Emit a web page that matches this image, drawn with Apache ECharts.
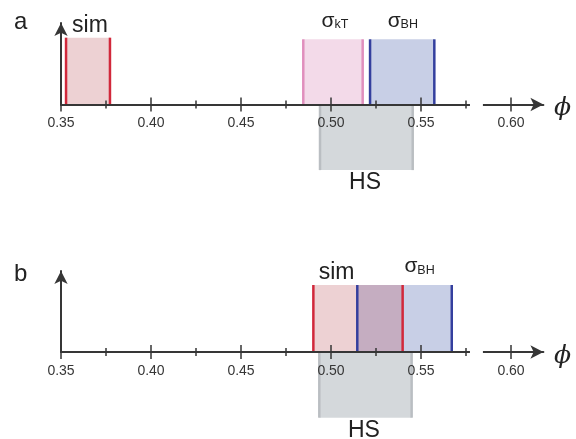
<!DOCTYPE html>
<html><head><meta charset="utf-8">
<script src="https://cdn.jsdelivr.net/npm/echarts@6/dist/echarts.min.js"></script>
<style>html,body{margin:0;padding:0;background:#fff}#c{width:576px;height:439px}</style>
</head><body><div id="c"></div>
<script>
// ---- data ----
const phiMin = 0.35;
const phiMax = 0.618;
const phiTicks = [0.35, 0.40, 0.45, 0.50, 0.55, 0.60];
const phiMinorTicks = [0.375, 0.425, 0.475, 0.525, 0.575];
const axisGap = [0.5772, 0.5844];

// panel a intervals (height > 0 above axis, < 0 below axis)
const aNames = ['sim', 'kT', 'BH', 'HS'];
const aLow = [0.3528, 0.4846, 0.5217, 0.4939];
const aHigh = [0.3772, 0.5176, 0.5574, 0.5454];
const aHeight = [0.82, 0.80, 0.80, -0.805];
const aLabelPhi = [0.3661, 0.5022, 0.5399, 0.5189];

// panel b intervals
const bNames = ['sim', 'BH', 'HS'];
const bLow = [0.4902, 0.5146, 0.4935];
const bHigh = [0.5398, 0.5671, 0.5448];
const bHeight = [0.827, 0.827, -0.811];
const bLabelPhi = [0.5031, 0.5492, 0.5183];

// ---- styles ----
const STY = {
  sim: {fill: '#edd1d3', edge: '#d1283b', label: 'sim'},
  kT: {fill: '#f3dae9', edge: '#e08fbd', label: '{s|σ}{t|kT}'},
  BH: {fill: '#c8cfe6', edge: '#343f9e', label: '{s|σ}{t|BH}'},
  HS: {fill: '#d4d8db', edge: '#babec2', label: 'HS'}
};
const OVERLAP_FILL = '#c5adc1';
const AXC = '#363636';
const PHI_STYLE = {text: 'ϕ', fontFamily: 'DejaVu Serif', fontStyle: 'italic', fontSize: 25, fill: '#222'};

function xAxes(gi) {
  const base = {type: 'value', gridIndex: gi, min: phiMin, max: phiMax, position: 'bottom', z: 10,
    splitLine: {show: false}};
  return [
    Object.assign({}, base, {
      axisLine: {show: true, onZero: false, symbol: ['none', 'arrow'], symbolSize: [10, 13],
        lineStyle: {color: AXC, width: 2}},
      axisTick: {show: true, customValues: phiTicks, length: 7, lineStyle: {color: AXC, width: 1.5}},
      axisLabel: {show: true, customValues: phiTicks, formatter: v => v.toFixed(2), margin: 12,
        fontSize: 14, fontFamily: 'Liberation Sans', color: AXC}
    }),
    Object.assign({}, base, {
      axisLine: {show: false, onZero: false},
      axisTick: {show: true, inside: true, customValues: phiTicks, length: 7, lineStyle: {color: AXC, width: 1.5}},
      axisLabel: {show: false}
    }),
    Object.assign({}, base, {
      axisLine: {show: false, onZero: false},
      axisTick: {show: true, customValues: phiMinorTicks, length: 4, lineStyle: {color: AXC, width: 1.5}},
      axisLabel: {show: false}
    }),
    Object.assign({}, base, {
      axisLine: {show: false, onZero: false},
      axisTick: {show: true, inside: true, customValues: phiMinorTicks, length: 4, lineStyle: {color: AXC, width: 1.5}},
      axisLabel: {show: false}
    })
  ];
}
function yAxis(gi) {
  return {type: 'value', gridIndex: gi, min: 0, max: 1, z: 10,
    axisLine: {show: true, onZero: false, symbol: ['none', 'arrow'], symbolSize: [10, 13],
      lineStyle: {color: AXC, width: 2}},
    axisTick: {show: false}, axisLabel: {show: false}, splitLine: {show: false}};
}

function rows(names, low, high, height, lab) {
  return names.map((n, i) => [low[i], high[i], height[i], i, lab[i]]);
}

function panelSeries(gi, names, low, high, height, lab, overlap) {
  const xi = gi * 4, yi = gi;
  const data = rows(names, low, high, height, lab);
  const enc = {x: [0, 1], y: 2};
  const list = [];
  list.push({
    type: 'custom', xAxisIndex: xi, yAxisIndex: yi, z: 2, clip: false, encode: enc, data: data,
    renderItem: (params, api) => {
      const lo = api.value(0), hi = api.value(1), h = api.value(2), n = names[api.value(3)];
      const p0 = api.coord([lo, 0]), p1 = api.coord([hi, h]);
      return {type: 'rect', shape: {x: p0[0], y: Math.min(p0[1], p1[1]), width: p1[0] - p0[0],
        height: Math.abs(p1[1] - p0[1])}, style: {fill: STY[n].fill}};
    }
  });
  if (overlap) {
    list.push({
      type: 'custom', xAxisIndex: xi, yAxisIndex: yi, z: 3, clip: false, encode: enc, data: overlap,
      renderItem: (params, api) => {
        const p0 = api.coord([api.value(0), 0]), p1 = api.coord([api.value(1), api.value(2)]);
        return {type: 'rect', shape: {x: p0[0], y: p1[1], width: p1[0] - p0[0], height: p0[1] - p1[1]},
          style: {fill: OVERLAP_FILL}};
      }
    });
  }
  list.push({
    type: 'custom', xAxisIndex: xi, yAxisIndex: yi, z: 4, clip: false, encode: enc, data: data,
    renderItem: (params, api) => {
      const lo = api.value(0), hi = api.value(1), h = api.value(2), n = names[api.value(3)];
      const a0 = api.coord([lo, 0]), a1 = api.coord([lo, h]);
      const b0 = api.coord([hi, 0]), b1 = api.coord([hi, h]);
      const st = {stroke: STY[n].edge, lineWidth: 2.5};
      return {type: 'group', children: [
        {type: 'line', shape: {x1: a0[0], y1: a0[1], x2: a1[0], y2: a1[1]}, style: st},
        {type: 'line', shape: {x1: b0[0], y1: b0[1], x2: b1[0], y2: b1[1]}, style: st}
      ]};
    }
  });
  list.push({
    type: 'custom', xAxisIndex: xi, yAxisIndex: yi, z: 5, clip: false, encode: enc, data: data,
    renderItem: (params, api) => {
      const h = api.value(2), n = names[api.value(3)], lp = api.value(4);
      const p = api.coord([lp, h]);
      const rich = n === 'kT' || n === 'BH';
      let y, va;
      if (h < 0) { y = p[1] + 13; va = 'middle'; }
      else if (rich) { y = p[1] - 8; va = 'bottom'; }
      else { y = p[1] - 12; va = 'middle'; }
      return {type: 'text', x: p[0], y: y, style: {
        text: STY[n].label, align: 'center', verticalAlign: va,
        fontFamily: 'Liberation Sans', fontSize: 23, fill: '#222',
        rich: {
          s: {fontFamily: 'Liberation Sans', fontSize: 21, lineHeight: 22, verticalAlign: 'bottom', fill: '#222'},
          t: {fontFamily: 'Liberation Sans', fontSize: 12.5, lineHeight: 8, verticalAlign: 'bottom', fill: '#222'}
        }
      }};
    }
  });
  list.push({
    type: 'custom', xAxisIndex: xi, yAxisIndex: yi, z: 30, clip: false, encode: enc,
    data: [[axisGap[0], axisGap[1], 0]],
    renderItem: (params, api) => {
      const p0 = api.coord([api.value(0), 0]), p1 = api.coord([api.value(1), 0]);
      return {type: 'rect', z2: 100, shape: {x: p0[0], y: p0[1] - 3, width: p1[0] - p0[0], height: 6},
        style: {fill: '#fff'}};
    }
  });
  return list;
}

const bOverlap = [[Math.max(bLow[0], bLow[1]), Math.min(bHigh[0], bHigh[1]), Math.min(bHeight[0], bHeight[1])]];

const chart = echarts.init(document.getElementById('c'), null, {renderer: 'canvas'});
chart.setOption({
  animation: false,
  backgroundColor: '#fff',
  grid: [
    {left: 61, right: 32.6, top: 23, height: 81.5, outerBoundsMode: 'none', containLabel: false},
    {left: 61, right: 32.6, top: 271, height: 81, outerBoundsMode: 'none', containLabel: false}
  ],
  xAxis: xAxes(0).concat(xAxes(1)),
  yAxis: [yAxis(0), yAxis(1)],
  graphic: [
    {type: 'text', left: 14, top: 10, style: {text: 'a', fontFamily: 'Liberation Sans', fontSize: 24, fill: '#222'}},
    {type: 'text', left: 14, top: 262, style: {text: 'b', fontFamily: 'Liberation Sans', fontSize: 24, fill: '#222'}},
    {type: 'text', left: 554, top: 96, style: PHI_STYLE},
    {type: 'text', left: 554, top: 343.5, style: PHI_STYLE}
  ],
  series: panelSeries(0, aNames, aLow, aHigh, aHeight, aLabelPhi, null)
    .concat(panelSeries(1, bNames, bLow, bHigh, bHeight, bLabelPhi, bOverlap))
});
</script></body></html>
